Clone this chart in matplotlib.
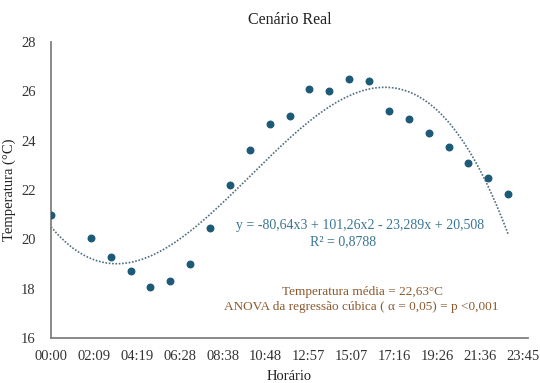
import numpy as np
import matplotlib
matplotlib.use("Agg")
import matplotlib.pyplot as plt

plt.rcParams['font.family'] = ['Liberation Serif', 'DejaVu Serif']

# horas medidas (fração do dia) e temperaturas
horas = [0, 2, 3, 4, 5, 6, 7, 8, 9, 10, 11, 12, 13, 14, 15, 16, 17, 18, 19, 20, 21, 22, 23]
temperatura = [21.0, 20.04, 19.27, 18.70, 18.07, 18.31, 18.99, 20.46, 22.21, 23.61, 24.67, 25.0,
               26.08, 26.0, 26.5, 26.41, 25.21, 24.86, 24.30, 23.75, 23.08, 22.47, 21.82]
coef = [-80.64, 101.26, -23.289, 20.508]
ticks_lbl = ["00:00", "02:09", "04:19", "06:28", "08:38", "10:48", "12:57",
             "15:07", "17:16", "19:26", "21:36", "23:45"]

x = np.array(horas) / 24.0

fig = plt.figure(figsize=(5.4, 3.83), dpi=100)
ax = fig.add_axes([51 / 540, 1 - 338 / 383, (528 - 51) / 540, (338 - 42) / 383])

xx = np.linspace(0, x.max(), 200)
ax.plot(xx, np.polyval(coef, xx), linestyle=(0, (1, 1)), color='#4f6f80', lw=1.2)
ax.scatter(x, temperatura, s=22, color='#1d5a78', zorder=3)

ax.set_xlim(0, 1.0)
ax.set_ylim(16, 28)
ax.set_xticks([i * 0.09 for i in range(len(ticks_lbl))])
ax.set_xticklabels(ticks_lbl)
ax.set_yticks(range(16, 29, 2))
ax.tick_params(length=0, labelsize=10.5, colors='#333333')
ax.tick_params(axis='x', pad=9)
ax.tick_params(axis='y', pad=11)
for s in ['top', 'right']:
    ax.spines[s].set_visible(False)
for s in ['left', 'bottom']:
    ax.spines[s].set_color('#808080')
    ax.spines[s].set_linewidth(1.3)

ax.set_title("Cenário Real", fontsize=11.5, color='#222222', pad=13)
ax.set_xlabel("Horário", fontsize=10.5, color='#222222', labelpad=5)
ax.set_ylabel("Temperatura (°C)", fontsize=10.5, color='#222222', labelpad=4)

fig.text(360 / 540, 1 - 225 / 383, "y = -80,64x3 + 101,26x2 - 23,289x + 20,508",
         ha='center', va='center', fontsize=10, color='#3b7592')
fig.text(343 / 540, 1 - 242 / 383, "R² = 0,8788",
         ha='center', va='center', fontsize=10, color='#3b7592')
fig.text(362 / 540, 1 - 292 / 383, "Temperatura média = 22,63°C",
         ha='center', va='center', fontsize=9.5, color='#8b5a30')
fig.text(361 / 540, 1 - 307 / 383, "ANOVA da regressão cúbica ( α = 0,05) = p <0,001",
         ha='center', va='center', fontsize=9.5, color='#8b5a30')

fig.savefig("out.png", dpi=100)
